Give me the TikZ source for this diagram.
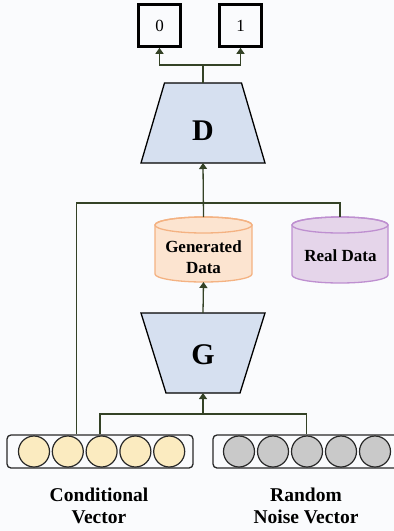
\documentclass[tikz,border=0pt]{standalone}
\usepackage{fontspec}
\setmainfont{Liberation Serif}
\usetikzlibrary{arrows.meta}
\definecolor{bg}{RGB}{250,251,253}
\definecolor{linec}{RGB}{52,66,38}
\definecolor{trapfill}{RGB}{214,224,240}
\definecolor{genfill}{RGB}{252,228,208}
\definecolor{gendraw}{RGB}{244,178,130}
\definecolor{realfill}{RGB}{229,213,234}
\definecolor{realdraw}{RGB}{190,143,208}
\definecolor{yelfill}{RGB}{251,235,192}
\definecolor{grayfill}{RGB}{201,201,201}
\definecolor{edgec}{RGB}{40,40,40}
\newcommand\dbcyl[6]{%
  \filldraw[fill=#5,draw=#6,line width=1.3pt] (#1-#4,#2-8) -- (#1-#4,#3+8)
    arc[start angle=180,end angle=360,x radius=#4pt,y radius=8pt] -- (#1+#4,#2-8)
    arc[start angle=0,end angle=180,x radius=#4pt,y radius=8pt] -- cycle;
  \draw[draw=#6,line width=1.3pt] (#1,#2-8) ellipse [x radius=#4pt,y radius=8pt];}
\tikzset{
  anchorbox/.style={draw=none,inner sep=0pt,outer sep=0pt},
  outbox/.style={draw=black,line width=2.6pt,minimum size=42pt,inner sep=0pt,font=\fontsize{17}{20}\selectfont},
  conn/.style={draw=linec,line width=1.3pt},
  arr/.style={conn,-{Triangle[length=6pt,width=8pt]}},
  trap/.style={fill=trapfill,draw=black,line width=1.3pt},
  bigletter/.style={font=\fontsize{30}{30}\selectfont\bfseries},
  dblabel/.style={font=\fontsize{17}{21}\selectfont\bfseries,align=center,inner sep=0pt},
  veclabel/.style={font=\fontsize{19.5}{22}\selectfont\bfseries,align=center,inner sep=0pt},
  vecbox/.style={draw=edgec,line width=1.3pt,rounded corners=4pt,minimum height=33pt,inner sep=0pt},
  ycirc/.style={circle,draw=edgec,line width=1.2pt,fill=yelfill,minimum size=31pt,inner sep=0pt},
  gcirc/.style={circle,draw=edgec,line width=1.2pt,fill=grayfill,minimum size=31pt,inner sep=0pt}
}
\begin{document}
\begin{tikzpicture}[x=1pt,y=1pt]
\path[fill=bg] (0,0) rectangle (394,-531);
\useasboundingbox (0,0) rectangle (394,-531);

% output boxes
\node[outbox] (o0) at (159.5,-25.5) {0};
\node[outbox] (o1) at (240.5,-25.5) {1};

% D
\node[anchorbox,minimum width=124pt,minimum height=80pt] (D) at (203,-123) {};
\path[trap] (D.south west) -- (D.south east) -- ([xshift=-23.5pt]D.north east) -- ([xshift=23.5pt]D.north west) -- cycle;
\node[bigletter] (Dt) at (203,-131) {D};

% G
\node[anchorbox,minimum width=124pt,minimum height=80pt] (G) at (203,-353) {};
\path[trap] (G.north west) -- (G.north east) -- ([xshift=-25pt]G.south east) -- ([xshift=25pt]G.south west) -- cycle;
\node[bigletter] (Gt) at (203,-355) {G};

% cylinders
\dbcyl{203.5}{-217}{-282}{48.5}{genfill}{gendraw}
\dbcyl{340}{-217}{-283}{48}{realfill}{realdraw}
\node[anchorbox,minimum width=97pt,minimum height=65pt] (gen) at (203.5,-249.5) {};
\node[anchorbox,minimum width=96pt,minimum height=66pt] (real) at (340,-250) {};
\node[dblabel] (gent) at (203.5,-257) {Generated\\Data};
\node[dblabel] (realt) at (340.5,-256) {Real Data};

% vectors
\node[vecbox,minimum width=186pt] (cond) at (100,-451.5) {};
\node[vecbox,minimum width=187pt] (noise) at (306.5,-451.5) {};
\foreach \i in {0,...,4}{
  \node[ycirc] (c\i) at (34+33.8*\i,-451.5) {};
  \node[gcirc] (n\i) at (239+34*\i,-451.5) {};
}
\node[veclabel] (condt) at (99,-506) {Conditional\\Vector};
\node[veclabel] (noiset) at (306,-506) {Random\\Noise Vector};

% connectors
\coordinate (jt) at (203,-65);
\draw[conn] (D.north) -- (jt);
\draw[arr] (jt) -| (o0.south);
\draw[arr] (jt) -| (o1.south);

\coordinate (jd) at (203,-203);
\draw[conn] ([xshift=70pt]cond.north west) |- (jd);
\draw[conn] (real.north) |- (jd);
\draw[arr] (gen.north) -- (D.south);

\draw[arr] (G.north) -- (gen.south);

\coordinate (jg) at (203,-414);
\draw[conn] (cond.north) |- (jg);
\draw[conn] (noise.north) |- (jg);
\draw[arr] (jg) -- (G.south);
\end{tikzpicture}
\end{document}
